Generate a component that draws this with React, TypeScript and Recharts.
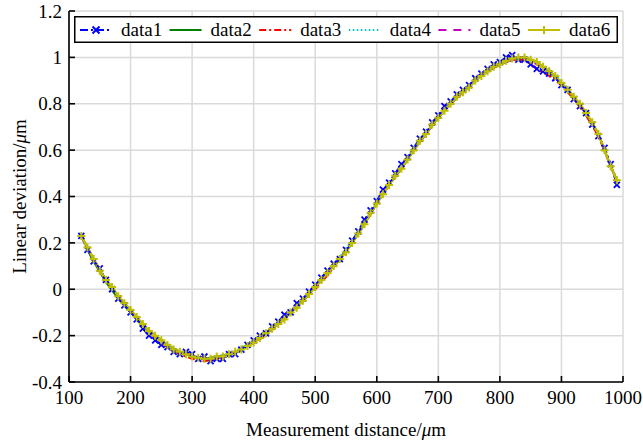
import { LineChart, Line, XAxis, YAxis, CartesianGrid, Label } from "recharts";

// x positions (µm)
const xFine = [
  120, 130, 140, 150, 160, 170, 180, 190, 200, 210, 220, 230, 240, 250, 260, 270, 280, 290,
  300, 310, 320, 330, 340, 350, 360, 370, 380, 390, 400, 410, 420, 430, 440, 450, 460, 470,
  480, 490, 500, 510, 520, 530, 540, 550, 560, 570, 580, 590, 600, 610, 620, 630, 640, 650,
  660, 670, 680, 690, 700, 710, 720, 730, 740, 750, 760, 770, 780, 790, 800, 810, 820, 830,
  840, 850, 860, 870, 880, 890, 900, 910, 920, 930, 940, 950, 960, 970, 980, 990,
];
const xCoarse = [
  120, 140, 160, 180, 200, 220, 240, 260, 280, 300, 320, 340, 360, 380, 400, 420, 440, 460,
  480, 500, 520, 540, 560, 580, 600, 620, 640, 660, 680, 700, 720, 740, 760, 780, 800, 820,
  840, 860, 880, 900, 920, 940, 960, 980, 990,
];

const data1 = [
  0.23, 0.17, 0.12, 0.09, 0.04, 0.0, -0.04, -0.07, -0.1, -0.13, -0.17, -0.2, -0.22, -0.24,
  -0.25, -0.27, -0.28, -0.27, -0.28, -0.3, -0.29, -0.31, -0.3, -0.3, -0.28, -0.28, -0.26,
  -0.24, -0.22, -0.2, -0.19, -0.16, -0.14, -0.11, -0.1, -0.06, -0.04, -0.01, 0.02, 0.05,
  0.08, 0.11, 0.13, 0.17, 0.21, 0.25, 0.3, 0.34, 0.38, 0.43, 0.46, 0.5, 0.54, 0.57, 0.61,
  0.65, 0.68, 0.72, 0.75, 0.79, 0.81, 0.84, 0.86, 0.88, 0.91, 0.93, 0.95, 0.97, 0.98, 1.0,
  1.01, 0.99, 0.99, 0.97, 0.95, 0.94, 0.93, 0.91, 0.88, 0.86, 0.82, 0.79, 0.76, 0.71, 0.66,
  0.61, 0.54, 0.45,
];
const data2 = [
  0.23, 0.12, 0.03, -0.04, -0.1, -0.16, -0.2, -0.24, -0.27, -0.29, -0.3, -0.29, -0.28,
  -0.26, -0.23, -0.19, -0.15, -0.1, -0.05, 0.01, 0.07, 0.13, 0.2, 0.28, 0.37, 0.45, 0.52,
  0.6, 0.67, 0.74, 0.8, 0.85, 0.9, 0.94, 0.97, 0.99, 1.0, 0.98, 0.94, 0.89, 0.83, 0.76,
  0.67, 0.53, 0.47,
];
const data3 = [
  0.23, 0.13, 0.04, -0.03, -0.09, -0.15, -0.21, -0.25, -0.28, -0.3, -0.31, -0.3, -0.28,
  -0.26, -0.23, -0.2, -0.15, -0.1, -0.05, 0.0, 0.06, 0.13, 0.2, 0.28, 0.37, 0.45, 0.52, 0.6,
  0.67, 0.74, 0.8, 0.85, 0.9, 0.94, 0.97, 0.99, 0.99, 0.95, 0.92, 0.88, 0.82, 0.75, 0.66,
  0.53, 0.47,
];
const data4 = [
  0.23, 0.13, 0.04, -0.03, -0.09, -0.15, -0.2, -0.24, -0.27, -0.29, -0.3, -0.29, -0.28,
  -0.25, -0.22, -0.19, -0.14, -0.1, -0.04, 0.01, 0.07, 0.14, 0.21, 0.29, 0.38, 0.45, 0.53,
  0.61, 0.68, 0.74, 0.81, 0.86, 0.9, 0.94, 0.97, 0.99, 1.0, 0.98, 0.95, 0.9, 0.83, 0.76,
  0.67, 0.53, 0.48,
];
const data5 = [
  0.23, 0.13, 0.04, -0.03, -0.09, -0.15, -0.2, -0.24, -0.27, -0.29, -0.3, -0.3, -0.28,
  -0.26, -0.23, -0.19, -0.15, -0.1, -0.05, 0.01, 0.07, 0.13, 0.2, 0.28, 0.37, 0.45, 0.52,
  0.6, 0.67, 0.74, 0.8, 0.85, 0.9, 0.94, 0.97, 0.99, 1.0, 0.97, 0.94, 0.89, 0.83, 0.76,
  0.67, 0.53, 0.47,
];
const data6 = [
  0.23, 0.18, 0.13, 0.08, 0.04, 0.01, -0.03, -0.06, -0.09, -0.12, -0.15, -0.18, -0.2, -0.22,
  -0.24, -0.26, -0.27, -0.28, -0.29, -0.295, -0.3, -0.3, -0.29, -0.29, -0.28, -0.27, -0.26,
  -0.245, -0.23, -0.21, -0.19, -0.17, -0.15, -0.13, -0.1, -0.08, -0.05, -0.02, 0.01, 0.04,
  0.07, 0.1, 0.13, 0.16, 0.2, 0.24, 0.28, 0.33, 0.37, 0.41, 0.45, 0.49, 0.52, 0.56, 0.6,
  0.64, 0.67, 0.71, 0.74, 0.77, 0.8, 0.83, 0.85, 0.87, 0.9, 0.92, 0.94, 0.96, 0.97, 0.985,
  0.995, 1.0, 1.0, 0.99, 0.98, 0.96, 0.94, 0.92, 0.89, 0.86, 0.83, 0.8, 0.76, 0.72, 0.67,
  0.6, 0.53, 0.47,
];

const xTicks = [100, 200, 300, 400, 500, 600, 700, 800, 900, 1000];
const yTicks = [-0.4, -0.2, 0, 0.2, 0.4, 0.6, 0.8, 1, 1.2];
const legendNames = ["data1", "data2", "data3", "data4", "data5", "data6"];

const toPoints = (xs: number[], ys: number[]) => xs.map((x, i) => ({ x, y: ys[i] }));

const series = [
  { name: "data1", data: toPoints(xFine, data1), color: "#0000FF", dash: "8 3 2 3", marker: "x", w: 2 },
  { name: "data2", data: toPoints(xCoarse, data2), color: "#008000", dash: undefined, marker: "", w: 2 },
  { name: "data3", data: toPoints(xCoarse, data3), color: "#FF0000", dash: "7 3 2 3", marker: "", w: 2 },
  { name: "data4", data: toPoints(xCoarse, data4), color: "#00BFBF", dash: "1.5 2.5", marker: "", w: 2 },
  { name: "data5", data: toPoints(xCoarse, data5), color: "#BF00BF", dash: "8 7", marker: "", w: 2 },
  { name: "data6", data: toPoints(xFine, data6), color: "#BFBF00", dash: undefined, marker: "+", w: 2.5 },
];

const FONT = "Liberation Serif, Times New Roman, serif";
const FS = 19;

const xMark = (color: string) => (props: any) => {
  const { cx, cy, index } = props;
  if (cx == null || cy == null) return <g key={`x-${index}`} />;
  const s = 3;
  return (
    <path
      key={`x-${index}`}
      d={`M${cx - s},${cy - s}L${cx + s},${cy + s}M${cx - s},${cy + s}L${cx + s},${cy - s}`}
      stroke={color}
      strokeWidth={1.8}
      fill="none"
    />
  );
};

const plusMark = (color: string) => (props: any) => {
  const { cx, cy, index } = props;
  if (cx == null || cy == null) return <g key={`p-${index}`} />;
  const s = 4;
  return (
    <path
      key={`p-${index}`}
      d={`M${cx - s},${cy}L${cx + s},${cy}M${cx},${cy - s}L${cx},${cy + s}`}
      stroke={color}
      strokeWidth={2}
      fill="none"
    />
  );
};

const LegendBox = () => (
  <svg width={544} height={27} style={{ position: "absolute", left: 74, top: 16 }}>
    <rect x={0.75} y={0.75} width={542.5} height={25.5} fill="#fff" stroke="#000" strokeWidth={1.5} />
    {series.map((s, i) => {
      const x0 = 6 + i * 89.6;
      return (
        <g key={s.name}>
          <line x1={x0} y1={14} x2={x0 + 32} y2={14} stroke={s.color} strokeWidth={2} strokeDasharray={s.dash} />
          {s.marker === "x" && (
            <path d={`M${x0 + 12.5},10.5L${x0 + 19.5},17.5M${x0 + 12.5},17.5L${x0 + 19.5},10.5`} stroke={s.color} strokeWidth={2} />
          )}
          {s.marker === "+" && (
            <path d={`M${x0 + 12},14L${x0 + 20},14M${x0 + 16},10L${x0 + 16},18`} stroke={s.color} strokeWidth={2} />
          )}
          <text x={x0 + 41} y={20} fontFamily={FONT} fontSize={FS} fill="#000">
            {legendNames[i]}
          </text>
        </g>
      );
    })}
  </svg>
);

export default function App() {
  return (
    <div style={{ position: "absolute", left: 0, top: 0, width: 643, height: 444, background: "#fff", fontFamily: FONT }}>
      <LineChart width={643} height={444} margin={{ top: 11, right: 20, bottom: 0, left: 0 }} style={{ fontFamily: FONT }}>
        <CartesianGrid stroke="#dadada" strokeWidth={1.5} xAxisId="b" yAxisId="l" />
        <XAxis
          xAxisId="b"
          dataKey="x"
          type="number"
          domain={[100, 1000]}
          ticks={xTicks}
          allowDataOverflow
          height={62}
          stroke="#000"
          strokeWidth={1.6}
          tickSize={-6}
          tickMargin={15}
          tick={{ fontFamily: FONT, fontSize: FS, fill: "#000" }}
        >
          <Label
            content={(p: any) => {
              const vb = p.viewBox;
              return (
                <text x={vb.x + vb.width / 2} y={vb.y + 54} textAnchor="middle" fontFamily={FONT} fontSize={FS} fill="#000">
                  Measurement distance/<tspan fontStyle="italic">μ</tspan>m
                </text>
              );
            }}
          />
        </XAxis>
        <XAxis
          xAxisId="t"
          orientation="top"
          dataKey="x"
          type="number"
          domain={[100, 1000]}
          ticks={xTicks}
          height={0}
          stroke="#000"
          strokeWidth={1.6}
          tickSize={-6}
          tick={false}
        />
        <YAxis
          yAxisId="l"
          type="number"
          domain={[-0.4, 1.2]}
          ticks={yTicks}
          allowDataOverflow
          width={69}
          stroke="#000"
          strokeWidth={1.6}
          tickSize={-6}
          tickMargin={13}
          tick={{ fontFamily: FONT, fontSize: FS, fill: "#000" }}
        >
          <Label
            content={(p: any) => {
              const vb = p.viewBox;
              const cx = vb.x + 19;
              const cy = vb.y + vb.height / 2;
              return (
                <text x={cx} y={cy} transform={`rotate(-90 ${cx} ${cy})`} textAnchor="middle" dominantBaseline="central" fontFamily={FONT} fontSize={FS} fill="#000">
                  Linear deviation/<tspan fontStyle="italic">μ</tspan>m
                </text>
              );
            }}
          />
        </YAxis>
        <YAxis
          yAxisId="r"
          orientation="right"
          type="number"
          domain={[-0.4, 1.2]}
          ticks={yTicks}
          width={0}
          stroke="#000"
          strokeWidth={1.6}
          tickSize={-6}
          tick={false}
        />
        {series.map((s) => (
          <Line
            key={s.name}
            xAxisId="b"
            yAxisId="l"
            data={s.data}
            dataKey="y"
            name={s.name}
            type="linear"
            stroke={s.color}
            strokeWidth={s.w}
            strokeDasharray={s.dash}
            dot={s.marker === "x" ? xMark(s.color) : s.marker === "+" ? plusMark(s.color) : false}
            activeDot={false}
            isAnimationActive={false}
          />
        ))}
      </LineChart>
      <LegendBox />
    </div>
  );
}
